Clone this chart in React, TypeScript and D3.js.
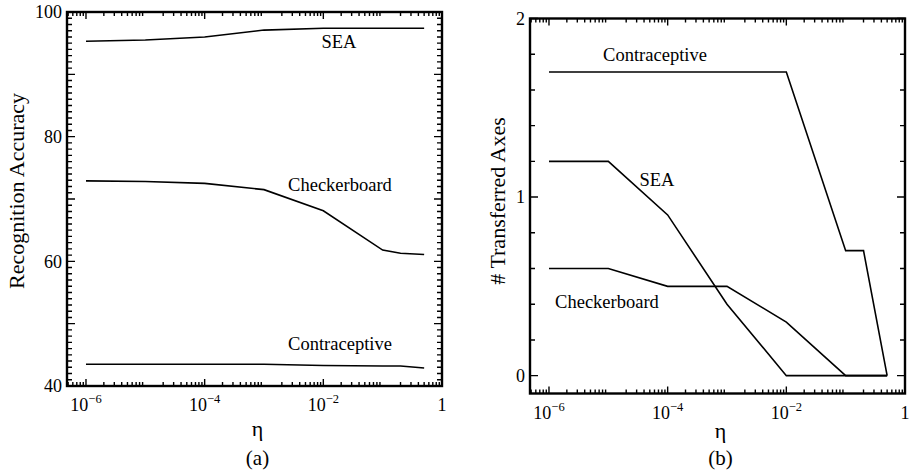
import React from "react";
import * as d3 from "d3";

// eta values shared by every curve
const eta = [1e-6, 1e-5, 1e-4, 1e-3, 1e-2, 0.1, 0.2, 0.5];

// (a) recognition accuracy
const accSEA = [95.3, 95.5, 96.0, 97.1, 97.4, 97.4, 97.4, 97.4];
const accCheckerboard = [72.9, 72.8, 72.5, 71.5, 68.1, 61.8, 61.3, 61.1];
const accContraceptive = [43.5, 43.5, 43.5, 43.5, 43.3, 43.2, 43.2, 42.9];

// (b) number of transferred axes
const axContraceptive = [1.7, 1.7, 1.7, 1.7, 1.7, 0.7, 0.7, 0];
const axSEA = [1.2, 1.2, 0.9, 0.4, 0, 0, 0, 0];
const axCheckerboard = [0.6, 0.6, 0.5, 0.5, 0.3, 0, 0, 0];

const xMajor = [1e-6, 1e-4, 1e-2, 1];
const accTickLabels = [40, 60, 80, 100];
const axTickLabels = [0, 1, 2];

const FONT = "'Liberation Serif', 'Times New Roman', serif";
const INK = "#000";

type Series = { name: string; values: number[]; lx: number; ly: number };

type PanelProps = {
  left: number;
  right: number;
  top: number;
  bottom: number;
  yDomain: [number, number];
  yTickStart: number;
  yLabels: number[];
  yMinorStep: number;
  yMajorStep: number;
  yTitle: string;
  yTitleX: number;
  yTitleY: number;
  etaY: number;
  caption: string;
  series: Series[];
};

const Panel = (p: PanelProps) => {
  const x = d3.scaleLog().domain([Math.pow(10, -6.32), 1]).range([p.left, p.right]);
  const y = d3.scaleLinear().domain(p.yDomain).range([p.bottom, p.top]);

  // log minor ticks
  const xMinor: number[] = [];
  for (let d = -7; d < 0; d++) {
    for (let k = 2; k <= 9; k++) {
      const v = k * Math.pow(10, d);
      if (v >= x.domain()[0] && v <= 1) xMinor.push(v);
    }
  }
  const yTicks: { v: number; major: boolean }[] = [];
  const n = Math.round((p.yDomain[1] - p.yTickStart) / p.yMinorStep);
  for (let i = 0; i <= n; i++) {
    const v = +(p.yTickStart + i * p.yMinorStep).toFixed(4);
    const r = v / p.yMajorStep;
    yTicks.push({ v, major: Math.abs(r - Math.round(r)) < 1e-6 });
  }

  const line = d3
    .line<number>()
    .x((_, i) => x(eta[i]))
    .y((d) => y(d));

  const cx = (p.left + p.right) / 2 + 3;

  const ticks: string[] = [];
  xMinor.forEach((v) => {
    ticks.push(`M${x(v)},${p.bottom}v-4M${x(v)},${p.top}v4`);
  });
  xMajor.forEach((v) => {
    ticks.push(`M${x(v)},${p.bottom}v-7M${x(v)},${p.top}v7`);
  });
  yTicks.forEach((t) => {
    const len = t.major ? 8 : 5;
    ticks.push(`M${p.left},${y(t.v)}h${len}M${p.right},${y(t.v)}h${-len}`);
  });

  return (
    <g fontFamily={FONT} fill={INK}>
      {p.series.map((s) => (
        <path key={s.name} d={line(s.values) || ""} fill="none" stroke={INK} strokeWidth={1.6} />
      ))}
      {p.series.map((s) => (
        <text key={s.name + "l"} x={s.lx} y={s.ly} fontSize={18.5} textAnchor="middle">
          {s.name}
        </text>
      ))}

      {/* ticks on all four sides, pointing inward */}
      <path d={ticks.join("")} fill="none" stroke={INK} strokeWidth={1.4} />

      {xMajor.map((v) => {
        const e = Math.round(Math.log10(v));
        return (
          <text key={"xl" + v} x={x(v)} y={p.bottom + 25} fontSize={18} textAnchor="middle">
            {e === 0 ? (
              "1"
            ) : (
              <>
                10
                <tspan fontSize={12.5} dy={-8}>
                  {"\u2212" + -e}
                </tspan>
              </>
            )}
          </text>
        );
      })}
      {p.yLabels.map((v) => (
        <text key={"yl" + v} x={p.left - 5} y={y(v)} dy="0.35em" fontSize={18} textAnchor="end">
          {v}
        </text>
      ))}

      <rect
        x={p.left}
        y={p.top}
        width={p.right - p.left}
        height={p.bottom - p.top}
        fill="none"
        stroke={INK}
        strokeWidth={2.4}
      />

      <text
        transform={`translate(${p.yTitleX},${p.yTitleY}) rotate(-90)`}
        dy="0.35em"
        fontSize={22}
        textAnchor="middle"
      >
        {p.yTitle}
      </text>
      <text x={cx} y={p.etaY} dy="0.35em" fontSize={22} textAnchor="middle">
        η
      </text>
      <text x={cx} y={458} dy="0.35em" fontSize={21} textAnchor="middle">
        {p.caption}
      </text>
    </g>
  );
};

export default function App() {
  return (
    <svg
      width={911}
      height={474}
      style={{ position: "absolute", left: 0, top: 0, background: "#fff" }}
    >
      <Panel
        left={67}
        right={442}
        top={12}
        bottom={386}
        yDomain={[40, 100]}
        yTickStart={40}
        yLabels={accTickLabels}
        yMinorStep={1}
        yMajorStep={10}
        yTitle="Recognition Accuracy"
        yTitleX={16}
        yTitleY={191}
        etaY={428}
        caption="(a)"
        series={[
          { name: "SEA", values: accSEA, lx: 339, ly: 48 },
          { name: "Checkerboard", values: accCheckerboard, lx: 340, ly: 191 },
          { name: "Contraceptive", values: accContraceptive, lx: 340, ly: 350 },
        ]}
      />
      <Panel
        left={530}
        right={905}
        top={18.5}
        bottom={393.5}
        yDomain={[-0.1, 2]}
        yTickStart={0}
        yLabels={axTickLabels}
        yMinorStep={0.2}
        yMajorStep={1}
        yTitle="# Transferred Axes"
        yTitleX={497}
        yTitleY={201}
        etaY={430}
        caption="(b)"
        series={[
          { name: "Contraceptive", values: axContraceptive, lx: 655, ly: 61 },
          { name: "SEA", values: axSEA, lx: 657, ly: 186 },
          { name: "Checkerboard", values: axCheckerboard, lx: 607, ly: 308 },
        ]}
      />
    </svg>
  );
}
